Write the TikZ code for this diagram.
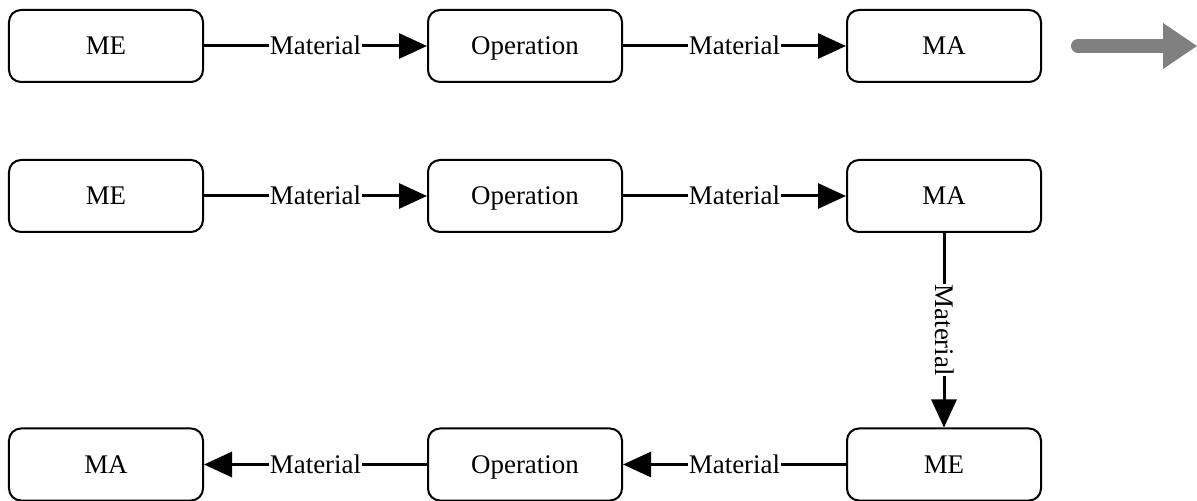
\documentclass[tikz,border=0pt]{standalone}
\usepackage{fontspec}
\setmainfont{Liberation Serif}
\usetikzlibrary{arrows.meta}
\definecolor{arrgray}{RGB}{128,128,128}
\begin{document}
\begin{tikzpicture}[x=1bp,y=-1bp,
  box/.style={draw=black, line width=2bp, rounded corners=12bp, minimum width=194bp, minimum height=72bp, inner sep=0pt, text height=18bp, text depth=0pt, font=\fontsize{27}{30}\selectfont},
  conn/.style={line width=3bp, -{Triangle[length=28bp,width=25bp]}},
  lbl/.style={fill=white, inner sep=0.5bp, text height=18bp, text depth=0pt, font=\fontsize{27}{30}\selectfont}]
\useasboundingbox (0,0) rectangle (1197,501);
% row 1
\node[box] (a1) at (106,46) {ME};
\node[box] (a2) at (525,46) {Operation};
\node[box] (a3) at (944,46) {MA};
\draw[conn] (a1) -- node[lbl] {Material} (a2);
\draw[conn] (a2) -- node[lbl] {Material} (a3);
% gray arrow
\draw[arrgray, line width=14bp, line cap=round] (1078,46) -- (1165,46);
\fill[arrgray] (1163,23) -- (1197,46) -- (1163,69) -- cycle;
% row 2
\node[box] (b1) at (106,196) {ME};
\node[box] (b2) at (525,196) {Operation};
\node[box] (b3) at (944,196) {MA};
\draw[conn] (b1) -- node[lbl] {Material} (b2);
\draw[conn] (b2) -- node[lbl] {Material} (b3);
% row 3
\node[box] (c3) at (944,464.5) {ME};
\node[box] (c2) at (525,464.5) {Operation};
\node[box] (c1) at (106,464.5) {MA};
\draw[conn] (b3) -- node[lbl, rotate=-90] {Material} (c3);
\draw[conn] (c3) -- node[lbl] {Material} (c2);
\draw[conn] (c2) -- node[lbl] {Material} (c1);
\end{tikzpicture}
\end{document}
